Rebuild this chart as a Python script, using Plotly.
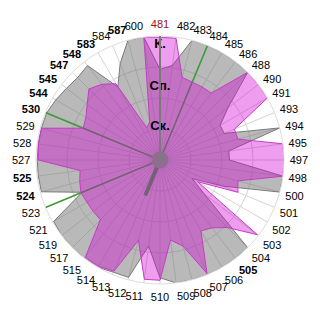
import plotly.graph_objects as go

categories = ["481","482","483","484","485","486","488","490","491","493",
              "494","495","497","498","500","501","502","503","504","505",
              "506","507","508","509","510","511","512","513","514","515",
              "517","519","521","523","524","525","527","528","529","530",
              "544","545","547","548","583","584","587","600"]

# values in percent of the outer ring
gray_values = [73, 77, 100, 100, 100, 100, 100, 69, 56, 56,
               100, 56, 56, 100, 100, 55, 30, 45, 100, 100,
               100, 100, 100, 100, 95, 70, 98, 98, 100, 100,
               100, 100, 99, 68, 99, 99, 99, 99, 99, 99,
               97, 95, 94, 96, 68, 84, 100, 100]

magenta_values = [99, 99, 69, 68, 68, 68, 100, 100, 100, 65,
                  65, 100, 100, 100, 65, 68, 35, 99, 77, 69,
                  66, 99, 72, 65, 97, 97, 67, 97, 99, 99,
                  68, 68, 68, 69, 67, 65, 98, 99, 99, 67,
                  69, 74, 81, 77, 71, 28, 32, 100]

bold_labels = ["587","583","548","547","545","544","530","525","524","505"]
red_labels = ["481"]

needle_cats = ["484", "530", "523"]
needle_values = [100, 100, 100]
short_needle_cat = "513"
short_needle_value = 31

level_labels = ["Ск.", "Сп.", "К."]
level_values = [27, 59, 93]

def fmt(c):
    if c in red_labels:
        return f"<span style='color:#a01010'>{c}</span>"
    if c in bold_labels:
        return f"<b>{c}</b>"
    return c

fig = go.Figure()

closed = categories + [categories[0]]
fig.add_trace(go.Scatterpolar(
    r=gray_values + [gray_values[0]], theta=closed, mode="lines",
    fill="toself", fillcolor="rgba(120,120,120,0.52)",
    line=dict(color="#7a7a7a", width=1), hoverinfo="skip"))

for c, v in zip(needle_cats, needle_values):
    fig.add_trace(go.Scatterpolar(
        r=[0, v], theta=[c, c], mode="lines",
        line=dict(color="#3c9c3c", width=1.6), hoverinfo="skip"))
fig.add_trace(go.Scatterpolar(
    r=[0, short_needle_value], theta=[short_needle_cat]*2, mode="lines",
    line=dict(color="#3c9c3c", width=4), hoverinfo="skip"))

fig.add_trace(go.Scatterpolar(
    r=magenta_values + [magenta_values[0]], theta=closed, mode="lines",
    fill="toself", fillcolor="rgba(214,0,214,0.38)",
    line=dict(color="#c43cc4", width=1), hoverinfo="skip"))

fig.add_trace(go.Scatterpolar(
    r=[0], theta=[categories[0]], mode="markers",
    marker=dict(size=17, color="#8e6e8e"), hoverinfo="skip"))

fig.add_trace(go.Scatterpolar(
    r=level_values, theta=[categories[0]]*3, mode="text",
    text=[f"<b>{t}</b>" for t in level_labels],
    textfont=dict(family="Liberation Sans, Arial", size=13, color="black"),
    hoverinfo="skip"))

fig.update_layout(
    width=320, height=320,
    margin=dict(l=36, r=36, t=36, b=36),
    paper_bgcolor="white",
    showlegend=False,
    polar=dict(
        bgcolor="white",
        domain=dict(x=[0, 1], y=[0, 1]),
        angularaxis=dict(
            type="category", categoryarray=categories,
            rotation=90, direction="clockwise",
            tickmode="array", tickvals=categories,
            ticktext=[fmt(c) for c in categories],
            tickfont=dict(family="Liberation Sans, Arial", size=11, color="black"),
            showline=True, linecolor="#dcdcdc", linewidth=1,
            showgrid=True, gridcolor="#d4d4d4", gridwidth=1,
            ticks="outside", ticklen=3, tickcolor="rgba(0,0,0,0)",
        ),
        radialaxis=dict(
            range=[0, 100], angle=90, showline=True,
            linecolor="#7a7a7a", linewidth=2,
            tickvals=[25, 50, 75], showticklabels=False, ticks="",
            showgrid=True, gridcolor="#d4d4d4", gridwidth=1,
        ),
    ),
)

fig.write_html("out.html")
